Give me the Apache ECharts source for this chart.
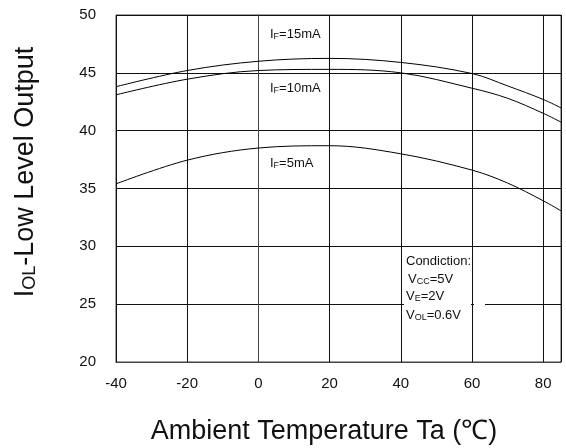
<!DOCTYPE html>
<html>
<head>
<meta charset="utf-8">
<script src="https://cdn.jsdelivr.net/npm/echarts@6/dist/echarts.min.js"></script>
<style>
  html, body { margin: 0; padding: 0; background: #fff; }
  #chart { width: 566px; height: 448px; }
</style>
</head>
<body>
<div id="chart"></div>
<script>
// 读图得到的数据
const temps = [-40, -20, 0, 20, 40, 60, 70, 80, 85]
const if15 = [43.8, 45.2, 46.0, 46.25, 45.9, 44.94, 43.87, 42.7, 41.97]
const if10 = [43.1, 44.45, 45.2, 45.3, 45.0, 43.67, 42.8, 41.5, 40.74]
const if5 = [35.4, 37.45, 38.5, 38.7, 38.0, 36.59, 35.47, 33.94, 33.07]
const yTicks = [20, 25, 30, 35, 40, 45, 50]
const xTicks = [-40, -20, 0, 20, 40, 60, 80]

const font = 'Liberation Sans, Arial, sans-serif'
const chart = echarts.init(document.getElementById('chart'))

function pairs(ys) {
  return temps.map((t, i) => [t, ys[i]])
}

function curve(name, ys) {
  return {
    name: name,
    type: 'line',
    smooth: 0.35,
    showSymbol: false,
    lineStyle: { color: '#000', width: 1 },
    data: pairs(ys),
    z: 3
  }
}

const sub = { fontSize: 9, fontFamily: font, fill: '#111', verticalAlign: 'bottom' }
const big = { fontSize: 13, fontFamily: font, fill: '#111' }

function label(x, y, main, s, rest) {
  return {
    type: 'text',
    left: x,
    top: y,
    z: 10,
    style: {
      text: '{a|' + main + '}{b|' + s + '}{a|' + rest + '}',
      rich: { a: big, b: sub }
    }
  }
}

chart.setOption({
  animation: false,
  grid: {
    left: 116, right: 5, top: 15, bottom: 86,
    show: true, borderColor: '#444', borderWidth: 1
  },
  xAxis: {
    type: 'value',
    min: xTicks[0],
    max: 85,
    interval: 20,
    axisLine: { lineStyle: { color: '#444' } },
    axisTick: { show: false },
    splitLine: { lineStyle: { color: '#111', width: 1 } },
    axisLabel: {
      color: '#111', fontSize: 15, fontFamily: font, margin: 14,
      showMaxLabel: false,
      formatter: v => xTicks.includes(v) ? String(v) : ''
    }
  },
  yAxis: {
    type: 'value',
    min: yTicks[0],
    max: yTicks[yTicks.length - 1],
    interval: 5,
    axisLine: { show: true, lineStyle: { color: '#444' } },
    axisTick: { show: false },
    splitLine: { lineStyle: { color: '#111', width: 1 } },
    axisLabel: { color: '#111', fontSize: 15, fontFamily: font, margin: 20 }
  },
  series: [
    curve('IF=15mA', if15),
    curve('IF=10mA', if10),
    curve('IF=5mA', if5)
  ],
  graphic: [
    // 25 网格线在条件说明处断开
    { type: 'rect', shape: { x: 404, y: 302, width: 67, height: 5 }, style: { fill: '#fff' }, z: 5 },
    { type: 'rect', shape: { x: 474, y: 302, width: 11, height: 5 }, style: { fill: '#fff' }, z: 5 },
    label(270, 28, 'I', 'F', '=15mA'),
    label(270, 82, 'I', 'F', '=10mA'),
    label(270, 157, 'I', 'F', '=5mA'),
    { type: 'text', left: 406, top: 255, z: 10, style: { text: 'Condiction:', font: '13px ' + font, fill: '#111' } },
    label(408, 273, 'V', 'CC', '=5V'),
    label(406, 290, 'V', 'E', '=2V'),
    label(406, 309, 'V', 'OL', '=0.6V'),
    {
      type: 'text',
      x: 26, y: 172,
      rotation: Math.PI / 2,
      z: 10,
      style: {
        text: '{a|I}{b|OL}{a|-Low Level Output}',
        align: 'center',
        verticalAlign: 'middle',
        rich: {
          a: { fontSize: 27, fontFamily: font, fill: '#111' },
          b: { fontSize: 18, fontFamily: font, fill: '#111', verticalAlign: 'bottom' }
        }
      }
    },
    {
      type: 'text',
      x: 324, y: 432,
      z: 10,
      style: {
        text: 'Ambient Temperature Ta (℃)',
        align: 'center',
        verticalAlign: 'middle',
        font: '27px ' + font,
        fill: '#111'
      }
    }
  ]
})
</script>
</body>
</html>
